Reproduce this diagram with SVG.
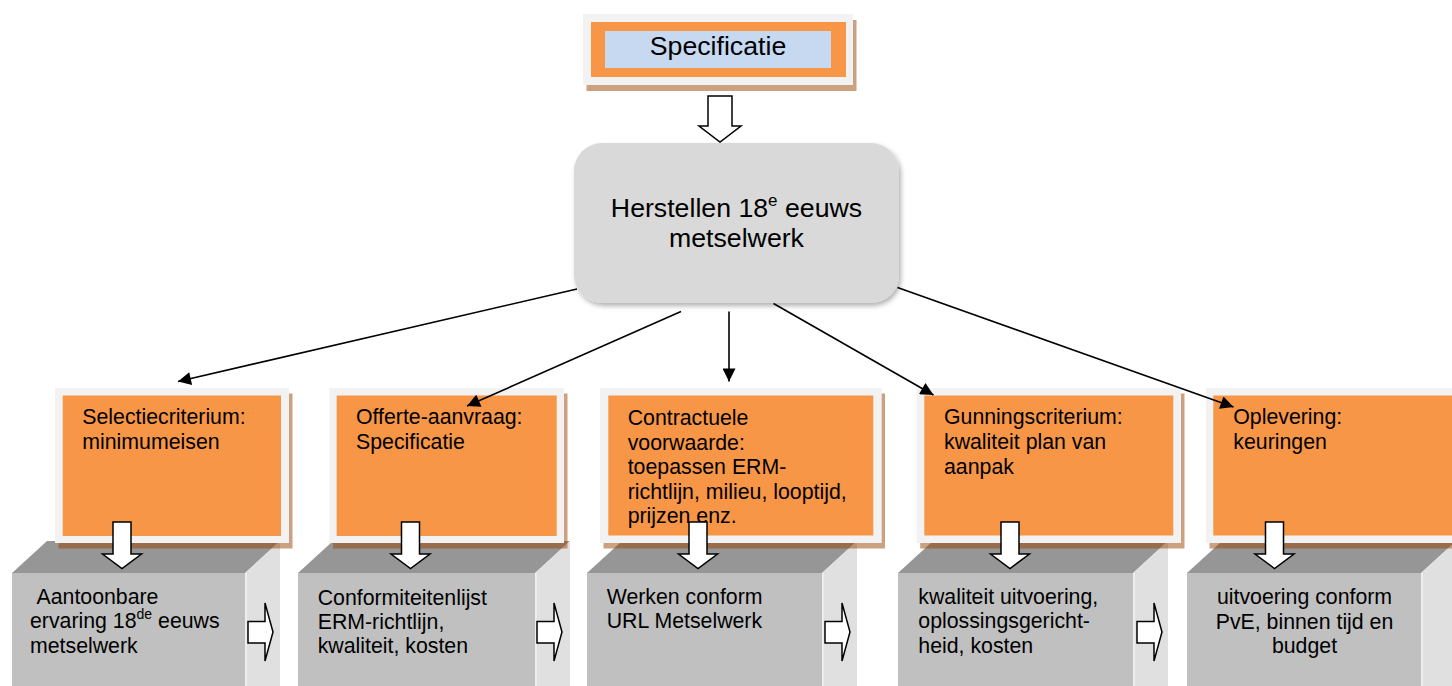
<svg xmlns="http://www.w3.org/2000/svg" width="1452" height="686" viewBox="0 0 1452 686">
<defs>
<style>
text{font-family:"Liberation Sans",Arial,sans-serif;fill:#000}
.t21{font-size:21.3px}
.t26{font-size:26.7px}
.frame{fill:#f2f2f2}
.shadow{fill:rgb(155,65,0);fill-opacity:0.5}
.orange{fill:#f79646}
.front{fill:#c0c0c0}
.top{fill:#969696}
.side{fill:#e0e0e0}
.edge{stroke:#f2f2f2;stroke-width:1.5;fill:none}
.blk{fill:#fff;stroke:#000;stroke-width:1.5;stroke-linejoin:miter}
.conn{stroke:#000;stroke-width:1.6;fill:none;marker-end:url(#ah)}
</style>
<marker id="ah" viewBox="0 0 10 10" refX="10" refY="5" markerUnits="userSpaceOnUse" markerWidth="16" markerHeight="13" orient="auto">
<path d="M0,0 L10,5 L0,10 z" fill="#000"/>
</marker>
<filter id="ds" x="-10%" y="-10%" width="125%" height="130%">
<feDropShadow dx="2" dy="3" stdDeviation="2.5" flood-color="#000" flood-opacity="0.3"/>
</filter>
</defs>

<g id="spec">
<rect class="shadow" x="586.5" y="20" width="270" height="71"/>
<rect class="frame" x="583" y="14" width="270" height="71"/>
<rect class="orange" x="591" y="22" width="255" height="55"/>
<rect fill="#c6d9f1" x="605" y="31" width="226" height="37"/>
<text class="t26" x="718" y="55" text-anchor="middle">Specificatie</text>
</g>

<g id="arrow-top">
<polygon class="blk" points="708,96 732,96 732,126 741,126 720,142 699,126 708,126"/>
</g>

<g id="center">
<rect x="574" y="143" width="325" height="160" rx="28" ry="28" fill="#d9d9d9" filter="url(#ds)"/>
<text class="t26" x="736.5" y="217" text-anchor="middle">Herstellen 18<tspan font-size="17px" dy="-11">e</tspan><tspan dy="11"> eeuws</tspan></text>
<text class="t26" x="736.5" y="247" text-anchor="middle">metselwerk</text>
</g>

<g id="result1">
<polygon class="top" points="12,573 245,573 280,541 47,541"/>
<polygon class="side" points="245,573 280,541 280,700 245,700"/>
<line class="edge" x1="246" y1="573" x2="246" y2="700"/>
<rect class="front" x="12" y="573" width="233" height="127"/>
<text class="t21" x="36.5" y="603.5">Aantoonbare</text>
<text class="t21" x="30" y="628.3">ervaring 18<tspan font-size="14px" dy="-9">de</tspan><tspan dy="9"> eeuws</tspan></text>
<text class="t21" x="30" y="652.7">metselwerk</text>
<polygon class="blk" points="248,621.5 265,621.5 265,603 273,632 265,661 265,643 248,643"/>
</g>

<g id="result2">
<polygon class="top" points="298,573 535,573 570,541 333,541"/>
<polygon class="side" points="535,573 570,541 570,700 535,700"/>
<line class="edge" x1="536" y1="573" x2="536" y2="700"/>
<rect class="front" x="298" y="573" width="237" height="127"/>
<text class="t21" x="317.7" y="605">Conformiteitenlijst</text>
<text class="t21" x="317.7" y="628.8">ERM-richtlijn,</text>
<text class="t21" x="317.7" y="653.3">kwaliteit, kosten</text>
<polygon class="blk" points="537,621.5 554,621.5 554,603 562,632 554,661 554,643 537,643"/>
</g>

<g id="result3">
<polygon class="top" points="587,573 822,573 857,541 622,541"/>
<polygon class="side" points="822,573 857,541 857,700 822,700"/>
<line class="edge" x1="823" y1="573" x2="823" y2="700"/>
<rect class="front" x="587" y="573" width="235" height="127"/>
<text class="t21" x="606.7" y="604">Werken conform</text>
<text class="t21" x="606.7" y="628.3">URL Metselwerk</text>
<polygon class="blk" points="825,621.5 842,621.5 842,603 850,632 842,661 842,643 825,643"/>
</g>

<g id="result4">
<polygon class="top" points="898,573 1133,573 1168,541 933,541"/>
<polygon class="side" points="1133,573 1168,541 1168,700 1133,700"/>
<line class="edge" x1="1134" y1="573" x2="1134" y2="700"/>
<rect class="front" x="898" y="573" width="235" height="127"/>
<text class="t21" x="918.3" y="603.5">kwaliteit uitvoering,</text>
<text class="t21" x="918.3" y="628">oplossingsgericht-</text>
<text class="t21" x="918.3" y="653">heid, kosten</text>
<polygon class="blk" points="1137,621.5 1154,621.5 1154,603 1162,632 1154,661 1154,643 1137,643"/>
</g>

<g id="result5">
<polygon class="top" points="1187,573 1421,573 1456,541 1222,541"/>
<polygon class="side" points="1421,573 1456,541 1456,700 1421,700"/>
<line class="edge" x1="1422" y1="573" x2="1422" y2="700"/>
<rect class="front" x="1187" y="573" width="234" height="127"/>
<text class="t21" x="1304.5" y="604" text-anchor="middle">uitvoering conform</text>
<text class="t21" x="1304.5" y="629" text-anchor="middle">PvE, binnen tijd en</text>
<text class="t21" x="1304.5" y="653.3" text-anchor="middle">budget</text>
</g>

<g id="step1">
<rect class="shadow" x="58.5" y="393.5" width="234" height="155"/>
<rect class="frame" x="55" y="388" width="234" height="155"/>
<rect class="orange" x="62.7" y="395.5" width="218.3" height="140.5"/>
<text class="t21" x="82.3" y="424">Selectiecriterium:</text>
<text class="t21" x="82.3" y="449">minimumeisen</text>
</g>

<g id="step2">
<rect class="shadow" x="333" y="393.5" width="234.5" height="155"/>
<rect class="frame" x="329.3" y="388" width="234.7" height="155"/>
<rect class="orange" x="336.7" y="395.5" width="220" height="140.5"/>
<text class="t21" x="356" y="424">Offerte-aanvraag:</text>
<text class="t21" x="356" y="449">Specificatie</text>
</g>

<g id="step3">
<rect class="shadow" x="603.5" y="393.5" width="281.5" height="155"/>
<rect class="frame" x="600" y="388" width="281.7" height="155"/>
<rect class="orange" x="608.3" y="395.5" width="265" height="140"/>
<text class="t21" x="627.7" y="425">Contractuele</text>
<text class="t21" x="627.7" y="449.5">voorwaarde:</text>
<text class="t21" x="627.7" y="474">toepassen ERM-</text>
<text class="t21" x="627.7" y="498.5">richtlijn, milieu, looptijd,</text>
<text class="t21" x="627.7" y="522.5">prijzen enz.</text>
</g>

<g id="step4">
<rect class="shadow" x="920.2" y="393.5" width="264.3" height="155"/>
<rect class="frame" x="916.7" y="388" width="264.3" height="155"/>
<rect class="orange" x="924.3" y="395.5" width="249" height="140"/>
<text class="t21" x="944" y="424">Gunningscriterium:</text>
<text class="t21" x="944" y="449">kwaliteit plan van</text>
<text class="t21" x="944" y="473.5">aanpak</text>
</g>

<g id="step5">
<rect class="shadow" x="1209.5" y="393.5" width="260" height="155"/>
<rect class="frame" x="1206" y="388" width="260" height="155"/>
<rect class="orange" x="1213.3" y="395.5" width="250" height="140"/>
<text class="t21" x="1233.3" y="424">Oplevering:</text>
<text class="t21" x="1233.3" y="449">keuringen</text>
</g>

<g id="connectors">
<line class="conn" x1="577" y1="289" x2="178" y2="381.5"/>
<line class="conn" x1="681" y1="311.5" x2="467" y2="406"/>
<line class="conn" x1="729" y1="311.5" x2="729" y2="381.5"/>
<line class="conn" x1="773.5" y1="303.5" x2="933.5" y2="395"/>
<line class="conn" x1="897.5" y1="287.5" x2="1233.5" y2="407"/>
</g>

<g id="down-arrows">
<polygon class="blk" points="113,522 131,522 131,554 141.5,554 122,568.5 102.5,554 113,554"/>
<polygon class="blk" points="401.5,522 419.5,522 419.5,554 430,554 410.5,568.5 391,554 401.5,554"/>
<polygon class="blk" points="689,522 707,522 707,554 717.5,554 698,568.5 678.5,554 689,554"/>
<polygon class="blk" points="1001,522 1019,522 1019,554 1029.5,554 1010,568.5 990.5,554 1001,554"/>
<polygon class="blk" points="1265.5,522 1283.5,522 1283.5,554 1294,554 1274.5,568.5 1255,554 1265.5,554"/>
</g>
</svg>
